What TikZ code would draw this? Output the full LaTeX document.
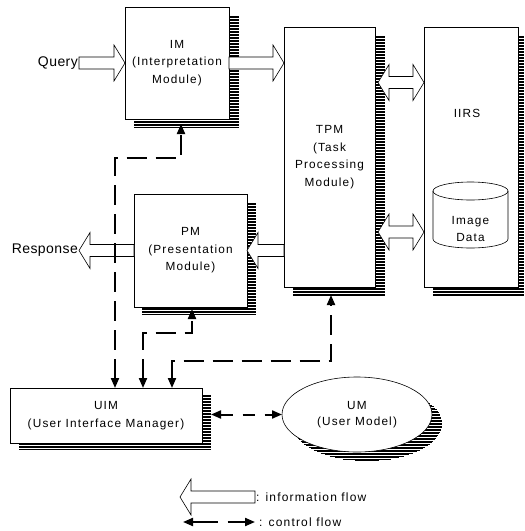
\documentclass[tikz,border=0pt]{standalone}
\usepackage{fontspec}
\setmainfont{Liberation Sans}[LetterSpace=10]
\newfontfamily\qfont{Liberation Sans}[LetterSpace=3]
\usetikzlibrary{arrows.meta,calc,shapes.geometric}
\tikzset{
  hatch/.style={line width=0.8pt, line cap=butt},
  box/.style={draw, line width=0.8pt, fill=white, align=center, inner sep=0pt, outer sep=0pt,
    font=\fontsize{11.8}{17.5}\selectfont},
  txt/.style={align=center, inner sep=1pt, font=\fontsize{11.8}{17.5}\selectfont},
  lbl/.style={inner sep=1pt, font=\qfont\fontsize{14}{16}\selectfont},
  lgd/.style={inner sep=1pt, font=\fontsize{12}{14}\selectfont},
  info/.style={draw, fill=white, line width=0.6pt, line join=miter},
  ctrl/.style={line width=2pt, dash pattern=on 20pt off 9pt, {Triangle[length=10pt,width=8pt]}-{Triangle[length=10pt,width=8pt]}},
}
\newcommand\infoarrow[2]{\draw[info] let \p1=(#1), \p2=(#2), \n1={\x2-sign(\x2-\x1)*11pt} in
  (\x1,\y1+6pt) -- (\n1,\y1+6pt) -- (\n1,\y1+18pt) -- (\x2,\y1) -- (\n1,\y1-18pt) -- (\n1,\y1-6pt) -- (\x1,\y1-6pt) -- cycle;}
\newcommand\dblarrow[2]{\draw[info] let \p1=(#1), \p2=(#2), \n1={\x1+11pt}, \n2={\x2-11pt} in
  (\x1,\y1) -- (\n1,\y1+18pt) -- (\n1,\y1+6pt) -- (\n2,\y1+6pt) -- (\n2,\y1+18pt) -- (\x2,\y1)
  -- (\n2,\y1-18pt) -- (\n2,\y1-6pt) -- (\n1,\y1-6pt) -- (\n1,\y1-18pt) -- cycle;}
\begin{document}
\begin{tikzpicture}[x=1pt,y=-1pt]
\useasboundingbox (0,0) rectangle (525,531);
% shadows (halftone)
\foreach \yy in {16,17.5,...,128} \draw[hatch] (134,\yy) -- (239,\yy);
\foreach \yy in {203,204.5,...,315} \draw[hatch] (142,\yy) -- (256,\yy);
\foreach \yy in {36,37.5,...,296} \draw[hatch] (293,\yy) -- (385,\yy);
\foreach \yy in {36,37.5,...,296} \draw[hatch] (433,\yy) -- (524,\yy);
\foreach \yy in {395,396.5,...,449} \draw[hatch] (19,\yy) -- (211,\yy);
\foreach \yy in {387,388.5,...,461} {
  \pgfmathsetmacro\hw{75*sqrt(max(0,1-((\yy-423.5)/37.5)^2))}
  \draw[hatch] ({367-\hw},\yy) -- ({367+\hw},\yy);
}
% boxes
\node[box, minimum width=104pt, minimum height=112pt] (im) at (177,63) {IM\\(Interpretation\\Module)};
\node[box, minimum width=113pt, minimum height=113pt] (pm) at (190.5,250.5) {PM\\(Presentation\\Module)};
\node[box, minimum width=91pt, minimum height=260pt] (tpm) at (329.5,157) {TPM\\(Task\\Processing\\Module)};
\node[box, minimum width=94pt, minimum height=260pt] (iirs) at (471,157) {};
\node[txt] (iirslbl) at (467,113) {IIRS};
\node[box, minimum width=192pt, minimum height=55pt] (uim) at (106,415.5) {UIM\\(User Interface Manager)};
\node[box, ellipse, line width=0.6pt, minimum width=150pt, minimum height=75pt,
  font=\fontsize{11.8}{16}\selectfont] (um) at (357,414.5) {UM\\(User Model)};
% cylinder
\draw[line width=0.6pt, fill=white] (433,191) -- (433,239) arc[start angle=180, end angle=360, x radius=37.5pt, y radius=9pt] -- (508,191);
\draw[line width=0.6pt] (470.5,191) ellipse[x radius=37.5pt, y radius=9pt];
\node[txt] (img) at (470.5,229) {Image\\Data};
% labels
\node[lbl, anchor=east] (query) at (79,63) {Query};
\node[lbl, anchor=east] (resp) at (79,250) {Response};
% information flow
\infoarrow{query.east}{im.west |- query.east}
\infoarrow{im.east}{tpm.west |- im.east}
\infoarrow{pm.west}{resp.east}
\infoarrow{tpm.west |- pm.east}{pm.east}
\coordinate (d1a) at (378,82.5);
\coordinate (d2a) at (378,232);
\dblarrow{d1a}{iirs.west |- d1a}
\dblarrow{d2a}{iirs.west |- d2a}
% control flow
\draw[ctrl] ($(uim.north west)+(105,0)$) -- ++(0,-230) -| ($(im.south)+(4,5)$);
\draw[ctrl] ($(uim.north west)+(133,0)$) -- ++(0,-55) -| ($(pm.south)+(1.5,2)$);
\draw[ctrl] ($(uim.north west)+(162,0)$) -- ++(0,-27) -| ($(tpm.south)+(1.5,8)$);
\draw[ctrl, dash pattern=on 12pt off 10pt] ($(uim.east)+(9,-1)$) -- (um.west);
% legend
\node[lgd, anchor=west] (l1) at (255,497) {: information flow};
\coordinate (l1tip) at (180,497);
\infoarrow{l1.west}{l1tip}
\node[lgd, anchor=west] (l2) at (258,522) {: control flow};
\coordinate (l2tail) at (183,522);
\draw[ctrl, dash pattern=on 25pt off 10pt] (l2tail) -- ($(l2.west)+(-3,0)$);
\end{tikzpicture}
\end{document}
